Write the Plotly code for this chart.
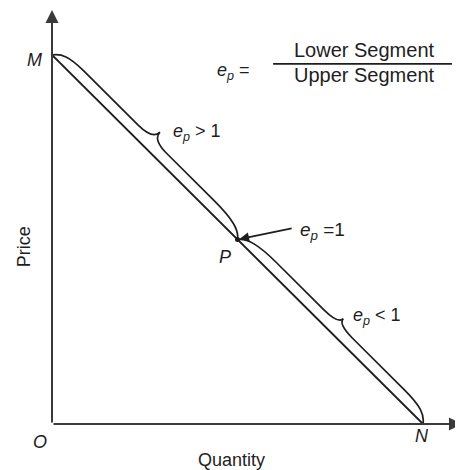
import math
import plotly.graph_objects as go

# ---- data ----
quantity = [0, 10]          # demand line endpoints (M -> N)
price = [10, 0]
mid_q, mid_p = 5, 5         # point P
x_axis_end = 11.05
y_axis_end = 11.22
axis_titles = ["Quantity", "Price"]
brace_labels = ["<i>e</i><sub><i>p</i></sub> > 1", "<i>e</i><sub><i>p</i></sub> < 1"]
unit_label = "<i>e</i><sub><i>p</i></sub> =1"
formula_lhs = "<i>e</i><sub><i>p</i></sub> ="
formula_num = "Lower Segment"
formula_den = "Upper Segment"

# page has an 8px body margin; figure is sized to fit the 463x470 window
W, H = 455, 462
SX, SY = 37.1, 36.9
L_M, B_M = 44, 46
xr = [0, (W - L_M) / SX]
yr = [0, (H - B_M) / SY]

INK = "#1e1e1e"
FONT = "Liberation Sans, Arial, sans-serif"


def px(q):
    return (q - xr[0]) / (xr[1] - xr[0])


def py(p):
    return (p - yr[0]) / (yr[1] - yr[0])


def brace_path(p0, p1, h, cusp, a0=0.9, a1=1.2, b=0.55):
    x0, y0 = p0
    x1, y1 = p1
    dx, dy = x1 - x0, y1 - y0
    L = math.hypot(dx, dy)
    ux, uy = dx / L, dy / L
    nx, ny = -uy, ux
    if nx + ny < 0:
        nx, ny = -nx, -ny

    def P(s, v):
        return f"{x0 + ux * s + nx * v:.4f},{y0 + uy * s + ny * v:.4f}"

    m = L / 2
    return (f"M {P(0, 0)} C {P(0.15, h * 0.7)} {P(a0 * 0.4, h)} {P(a0, h)} L {P(m - b, h)} "
            f"Q {P(m, h)} {P(m, cusp)} Q {P(m, h)} {P(m + b, h)} "
            f"L {P(L - a1, h)} C {P(L - a1 * 0.4, h)} {P(L - 0.15, h * 0.7)} {P(L, 0)}")


fig = go.Figure()
fig.add_trace(go.Scatter(x=quantity, y=price, mode="lines",
                         line=dict(color=INK, width=1.9), hoverinfo="skip"))
fig.add_trace(go.Scatter(x=[mid_q], y=[mid_p], mode="markers",
                         marker=dict(color=INK, size=5), hoverinfo="skip"))

shapes = [
    dict(type="path", xref="x", yref="y",
         path=brace_path((quantity[0], price[0]), (mid_q, mid_p), 0.30, 0.58, a0=0.9, a1=1.2),
         line=dict(color=INK, width=1.7)),
    dict(type="path", xref="x", yref="y",
         path=brace_path((mid_q, mid_p), (quantity[1], price[1]), 0.30, 0.50, a0=1.2, a1=1.0),
         line=dict(color=INK, width=1.7)),
    # fraction bar
    dict(type="line", xref="x", yref="y", x0=5.96, x1=10.78, y0=9.76, y1=9.76,
         line=dict(color=INK, width=1.8)),
]

ann = []
ann.append(dict(x=0, y=y_axis_end, ax=0, ay=0, xref="x", yref="y", axref="x", ayref="y",
                text="", showarrow=True, arrowhead=2, arrowsize=1.3, arrowwidth=2,
                arrowcolor="#3a3a3a"))
ann.append(dict(x=x_axis_end, y=0, ax=0, ay=0, xref="x", yref="y", axref="x", ayref="y",
                text="", showarrow=True, arrowhead=2, arrowsize=1.3, arrowwidth=2,
                arrowcolor="#3a3a3a"))
ann.append(dict(x=mid_q, y=mid_p, ax=6.50, ay=5.31, xref="x", yref="y", axref="x", ayref="y",
                text="", showarrow=True, arrowhead=2, arrowsize=1.2, arrowwidth=1.6,
                arrowcolor=INK, standoff=2))


def txt(x, y, t, size=18, xanchor="center", angle=0):
    ann.append(dict(x=px(x), y=py(y), xref="paper", yref="paper", text=t, showarrow=False,
                    xanchor=xanchor, yanchor="middle", textangle=angle,
                    font=dict(family=FONT, size=size, color=INK)))


txt(-0.485, 9.86, "<i>M</i>")
txt(4.66, 4.53, "<i>P</i>")
txt(9.97, -0.33, "<i>N</i>")
txt(-0.32, -0.50, "<i>O</i>")
txt(-0.755, 4.82, axis_titles[1], angle=-90)
txt(4.85, -0.976, axis_titles[0])
txt(3.22, 7.89, brace_labels[0], xanchor="left")
txt(8.05, 2.90, brace_labels[1], xanchor="left")
txt(6.62, 5.23, unit_label, xanchor="left", size=19)
txt(4.39, 9.54, formula_lhs, xanchor="left")
txt(8.41, 10.14, formula_num, size=20)
txt(8.41, 9.46, formula_den, size=20)

fig.update_layout(
    width=W, height=H,
    margin=dict(l=L_M, r=0, t=0, b=B_M),
    paper_bgcolor="white", plot_bgcolor="white",
    showlegend=False,
    xaxis=dict(range=xr, visible=False, fixedrange=True),
    yaxis=dict(range=yr, visible=False, fixedrange=True),
    shapes=shapes, annotations=ann,
)
fig.write_html("out.html")
